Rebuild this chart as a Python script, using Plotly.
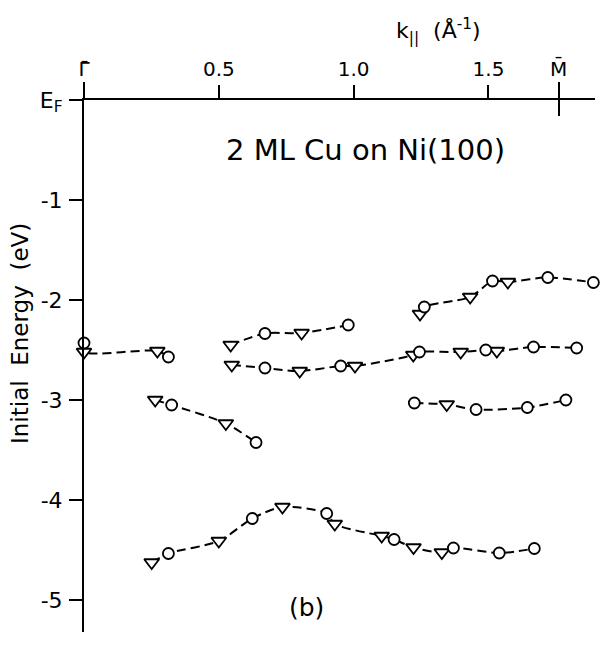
import plotly.graph_objects as go

# ---- data (k in 1/Angstrom, E in eV) ----
# symbol: 'o' = circle, 'v' = triangle
band1_k = [0.0, 0.0, 0.272, 0.313]
band1_E = [-2.43, -2.52, -2.51, -2.57]
band1_s = ['o', 'v', 'v', 'o']

band2_k = [0.544, 0.671, 0.807, 0.98]
band2_E = [-2.45, -2.335, -2.33, -2.25]
band2_s = ['v', 'o', 'v', 'o']

band3_k = [0.548, 0.671, 0.80, 0.952, 1.005, 1.221, 1.244, 1.397, 1.49, 1.531, 1.667, 1.827]
band3_E = [-2.65, -2.68, -2.71, -2.66, -2.66, -2.55, -2.52, -2.52, -2.50, -2.51, -2.47, -2.48]
band3_s = ['v', 'o', 'v', 'o', 'v', 'v', 'o', 'v', 'o', 'v', 'o', 'o']

band4_k = [1.246, 1.262, 1.432, 1.515, 1.572, 1.72, 1.889]
band4_E = [-2.14, -2.07, -1.97, -1.81, -1.82, -1.775, -1.825]
band4_s = ['v', 'o', 'v', 'o', 'v', 'o', 'o']

band5_k = [0.264, 0.325, 0.526, 0.638]
band5_E = [-3.0, -3.05, -3.235, -3.425]
band5_s = ['v', 'o', 'v', 'o']

band6_k = [1.225, 1.345, 1.454, 1.644, 1.787]
band6_E = [-3.03, -3.045, -3.095, -3.075, -3.0]
band6_s = ['o', 'v', 'o', 'o', 'o']

band7_k = [0.251, 0.313, 0.50, 0.624, 0.736, 0.90, 0.93, 1.104, 1.15, 1.222, 1.327, 1.37, 1.54, 1.67]
band7_E = [-4.625, -4.535, -4.41, -4.185, -4.07, -4.135, -4.24, -4.36, -4.395, -4.475, -4.525, -4.48, -4.53, -4.485]
band7_s = ['v', 'o', 'v', 'o', 'v', 'o', 'v', 'v', 'o', 'v', 'v', 'o', 'o', 'o']

x_tick_vals = [0.0, 0.5, 1.0, 1.5, 1.76]
x_tick_text = ['\u0393\u0304', '0.5', '1.0', '1.5', 'M\u0304']
sym_point_vals = [0.0, 1.76]
y_tick_vals = [0, -1, -2, -3, -4, -5]
y_tick_text = ['E<sub>F</sub>', '-1', '-2', '-3', '-4', '-5']

bands = [
    (band1_k, band1_E, band1_s),
    (band2_k, band2_E, band2_s),
    (band3_k, band3_E, band3_s),
    (band4_k, band4_E, band4_s),
    (band5_k, band5_E, band5_s),
    (band6_k, band6_E, band6_s),
    (band7_k, band7_E, band7_s),
]

XR = [0, 1.895]
YR = [-5.32, 0]

fig = go.Figure()

# dashed guide lines
for k, E, s in bands:
    fig.add_trace(go.Scatter(
        x=k, y=E, mode='lines',
        line=dict(color='black', width=2, dash='9px,5px', shape='spline', smoothing=0.8),
        hoverinfo='skip', cliponaxis=False))

# markers
ck, cE, tk, tE = [], [], [], []
for k, E, s in bands:
    for kk, ee, ss in zip(k, E, s):
        if ss == 'o':
            ck.append(kk); cE.append(ee)
        else:
            tk.append(kk); tE.append(ee)

fig.add_trace(go.Scatter(
    x=tk, y=tE, mode='markers', cliponaxis=False,
    marker=dict(symbol='triangle-down', size=13, color='white',
                line=dict(color='black', width=1.8))))
fig.add_trace(go.Scatter(
    x=ck, y=cE, mode='markers', cliponaxis=False,
    marker=dict(symbol='circle', size=11, color='white',
                line=dict(color='black', width=1.8))))

# dummy traces to hold the extra tick axes
fig.add_trace(go.Scatter(x=[None], y=[None], xaxis='x2', showlegend=False))
fig.add_trace(go.Scatter(x=[None], y=[None], xaxis='x3', showlegend=False))

L, R, T, B = 84, 7, 100, 17
W, H = 602, 649
pw, ph = W - L - R, H - T - B

def px(xp):
    return (xp - L) / pw

def py(yp):
    return (H - B - yp) / ph

font_fam = 'DejaVu Sans'

fig.update_layout(
    width=W, height=H,
    margin=dict(l=L, r=R, t=T, b=B, autoexpand=False),
    plot_bgcolor='white', paper_bgcolor='white',
    showlegend=False,
    font=dict(family=font_fam, color='black'),
    xaxis=dict(range=XR, side='top', showline=True, linewidth=2, linecolor='black',
               ticks='outside', ticklen=13, tickwidth=2, tickcolor='black',
               tickvals=x_tick_vals, ticktext=x_tick_text,
               tickfont=dict(size=20, family=font_fam, color='black'),
               ticklabelstandoff=1, automargin=False,
               showgrid=False, zeroline=False),
    xaxis2=dict(range=XR, overlaying='x', side='top', anchor='y', showline=False,
                ticks='outside', ticklen=17, tickwidth=2, tickcolor='black',
                tickvals=sym_point_vals, showticklabels=False, automargin=False,
                showgrid=False, zeroline=False),
    xaxis3=dict(range=XR, overlaying='x', side='top', anchor='y', showline=False,
                ticks='inside', ticklen=16, tickwidth=2, tickcolor='black',
                tickvals=[sym_point_vals[1]], showticklabels=False, automargin=False,
                showgrid=False, zeroline=False),
    yaxis=dict(range=YR, showline=True, linewidth=2, linecolor='black',
               ticks='outside', ticklen=13, tickwidth=2, tickcolor='black',
               tickvals=y_tick_vals, ticktext=y_tick_text,
               tickfont=dict(size=22, family=font_fam, color='black'),
               ticklabelstandoff=2, automargin=False,
               showgrid=False, zeroline=False),
    annotations=[
        dict(text='k<sub>||</sub>\u00a0\u00a0(Å<sup>-1</sup>)', xref='paper', yref='paper',
             x=px(438), y=py(31), showarrow=False, font=dict(size=22),
             xanchor='center', yanchor='middle'),
        dict(text='2 ML Cu on Ni(100)', xref='paper', yref='paper',
             x=px(365), y=py(150), showarrow=False, font=dict(size=29),
             xanchor='center', yanchor='middle'),
        dict(text='(b)', xref='paper', yref='paper',
             x=px(306), y=py(607), showarrow=False, font=dict(size=25),
             xanchor='center', yanchor='middle'),
        dict(text='Initial\u00a0\u00a0Energy\u00a0\u00a0(eV)', xref='paper', yref='paper',
             x=px(20), y=py(334), showarrow=False, font=dict(size=23),
             textangle=-90, xanchor='center', yanchor='middle'),
    ],
)

fig.write_html('out.html',
               config={'displayModeBar': False},
               post_script="document.body.style.margin='0';document.body.style.padding='0';")
